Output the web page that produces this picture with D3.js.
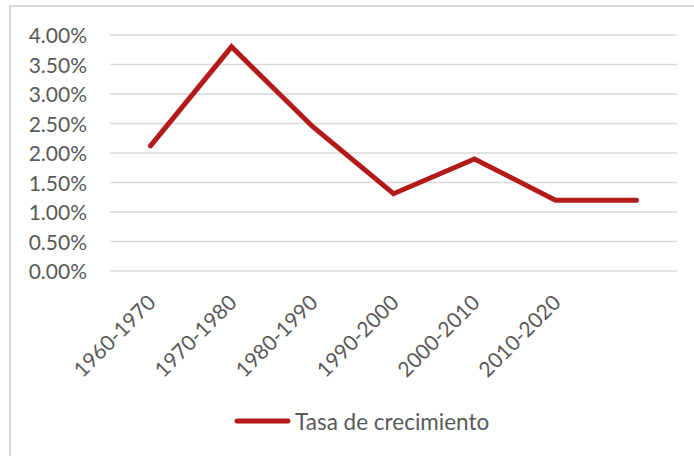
<!DOCTYPE html>
<html>
<head>
<meta charset="utf-8">
<script src="https://cdn.jsdelivr.net/npm/d3@7"></script>
<style>
  html, body { margin: 0; padding: 0; background: #fff; }
  svg { display: block; }
</style>
</head>
<body>
<svg id="chart" width="694" height="456"></svg>
<script>
// Data
const categories = ["1960-1970", "1970-1980", "1980-1990", "1990-2000", "2000-2010", "2010-2020", ""];
const values = [0.0212, 0.0380, 0.0245, 0.0131, 0.0190, 0.0120, 0.0120];
const yTicks = [0, 0.005, 0.01, 0.015, 0.02, 0.025, 0.03, 0.035, 0.04];
const seriesName = "Tasa de crecimiento";

const W = 694, H = 456;
const svg = d3.select("#chart");
const font = "Lato, 'Open Sans', sans-serif";
const textColor = "#595959";
const lineColor = "#b31b1b";

// Chart frame (right and bottom edges run off the picture)
svg.append("rect")
  .attr("x", 10).attr("y", 6)
  .attr("width", W + 20).attr("height", H + 20)
  .attr("fill", "#fff")
  .attr("stroke", "#d9d9d9")
  .attr("stroke-width", 2);

const x = d3.scalePoint().domain(categories.map((d, i) => i)).range([110, 677]).padding(0.5);
const y = d3.scaleLinear().domain([0, 0.04]).range([271, 35]);

// Gridlines
svg.append("g")
  .selectAll("line")
  .data(yTicks)
  .join("line")
  .attr("x1", 110).attr("x2", 677)
  .attr("y1", d => y(d)).attr("y2", d => y(d))
  .attr("stroke", "#d9d9d9")
  .attr("stroke-width", 1.4);

// Y axis labels
const yAxis = d3.axisLeft(y).tickValues(yTicks).tickFormat(d3.format(".2%")).tickSize(0).tickPadding(0);
const gy = svg.append("g").attr("transform", "translate(87,0)").call(yAxis);
gy.select(".domain").remove();
gy.selectAll("text")
  .attr("font-family", font)
  .attr("font-size", 21)
  .attr("fill", textColor)
  .attr("dy", "0.36em");

// X axis labels
const xAxis = d3.axisBottom(x).tickFormat(i => categories[i]).tickSize(0).tickPadding(0);
const gx = svg.append("g").attr("transform", "translate(0,271)").call(xAxis);
gx.select(".domain").remove();
gx.selectAll("text")
  .attr("font-family", font)
  .attr("font-size", 21)
  .attr("fill", textColor)
  .attr("text-anchor", "end")
  .attr("y", 0)
  .attr("dy", 0)
  .attr("transform", "translate(6,33) rotate(-45)");

// Line
const line = d3.line().x((d, i) => x(i)).y(d => y(d));
svg.append("path")
  .datum(values)
  .attr("d", line)
  .attr("fill", "none")
  .attr("stroke", lineColor)
  .attr("stroke-width", 5)
  .attr("stroke-linejoin", "miter")
  .attr("stroke-linecap", "round");

// Legend
const lg = svg.append("g");
lg.append("line")
  .attr("x1", 237).attr("x2", 288)
  .attr("y1", 421).attr("y2", 421)
  .attr("stroke", lineColor)
  .attr("stroke-width", 5)
  .attr("stroke-linecap", "round");
lg.append("text")
  .attr("x", 295).attr("y", 430)
  .attr("font-family", font)
  .attr("font-size", 22.5)
  .attr("fill", textColor)
  .text(seriesName);
</script>
</body>
</html>
